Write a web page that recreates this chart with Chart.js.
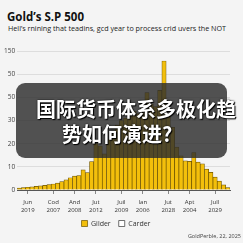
<!DOCTYPE html>
<html>
<head>
<meta charset="utf-8">
<script src="https://cdn.jsdelivr.net/npm/chart.js@4/dist/chart.umd.min.js"></script>
<style>
html,body{margin:0;padding:0;background:#f4f4f4;width:243px;height:243px;overflow:hidden;font-family:"Open Sans",sans-serif;}
#wrap{position:relative;width:243px;height:243px;}
#title{position:absolute;left:7px;top:9px;font:bold 11.5px "Open Sans",sans-serif;color:#111;}
#sub{position:absolute;left:8px;top:23px;font:7.2px "Open Sans",sans-serif;color:#222;white-space:nowrap;}
#cv{position:absolute;left:0;top:40px;}
#foot{position:absolute;right:2px;top:232px;font:5.5px "Open Sans",sans-serif;color:#444;}
#ov{position:absolute;left:16px;top:83px;width:211px;height:75px;border-radius:9px;background:rgba(45,45,45,0.82);}
.ol{position:absolute;font:bold 20px "Noto Sans CJK SC",sans-serif;color:#fff;white-space:nowrap;line-height:22px;text-shadow:0 0 2px #000,1px 1px 1px #000;}
</style>
</head>
<body>
<div id="wrap">
<div id="title">Gold’s S.P 500</div>
<div id="sub">Hell’s rnining that teadins, gcd year to process crid uvers the NOT</div>
<canvas id="cv" width="243" height="203"></canvas>
<div id="foot">GoldPerble, 22, 2025</div>
<div id="ov"></div>
<div class="ol" style="left:36px;top:98px;">国际货币体系多极化趋</div>
<div class="ol" style="left:62px;top:123px;">势如何演进?</div>
</div>
<script>
const categories = ['', '', 'Jun 2019', '', '', '', '', '', 'Cod 2007', '', '', '', '', 'And 2008', '', '', '', '', 'Jut 2012', '', '', '', '', '', 'Juil 2009', '', '', '', '', 'Ian 2006', '', '', '', '', '', 'Jut 2028', '', '', '', '', 'Apt 2004', '', '', '', '', '', 'Jull 2029', '', '', ''];
const gilderValues = [0.8, 1.0, 1.2, 1.4, 1.6, 1.8, 2.0, 2.3, 2.6, 3.0, 3.6, 4.4, 5.3, 6.0, 6.2, 8.7, 7.5, 12.3, 20, 19, 15.6, 22, 25, 28, 30, 31, 32, 34, 33, 38, 42, 37, 36, 43, 55.7, 33, 27, 18.5, 14.8, 12.6, 12.4, 16.2, 12, 11.3, 9, 7.6, 5.6, 3.8, 2.2, 1.0];
const carderValues = [];
const yTickLabels = ['0', '10', '20', '30', '50', '50', '150'];
const seriesNames = ['Gilder', 'Carder'];

new Chart(document.getElementById('cv'), {
  type: 'bar',
  data: {
    labels: categories,
    datasets: [
      {label: seriesNames[0], data: gilderValues, backgroundColor: '#f3bf0b', borderColor: '#6b5200', borderWidth: 0.7, categoryPercentage: 1, barPercentage: 1, grouped: false},
      {label: seriesNames[1], data: carderValues, backgroundColor: '#ffffff', borderColor: '#333333', borderWidth: 0.7, categoryPercentage: 1, barPercentage: 1, grouped: false}
    ]
  },
  options: {
    responsive: false,
    animation: false,
    devicePixelRatio: 1,
    layout: {padding: {top: 11, right: 13, left: 2, bottom: 6}},
    plugins: {
      legend: {
        position: 'bottom',
        labels: {boxWidth: 6, boxHeight: 6, font: {size: 7, family: 'Open Sans'}, color: '#333', padding: 8}
      },
      tooltip: {enabled: false}
    },
    scales: {
      x: {
        grid: {
          offset: false,
          drawOnChartArea: false,
          tickLength: 4,
          color: (c) => (c.tick && c.tick.label && c.tick.label !== '' ? '#888' : 'rgba(0,0,0,0)')
        },
        border: {color: '#555', width: 1},
        ticks: {
          autoSkip: false, maxRotation: 0, padding: 4,
          font: {size: 6, family: 'Open Sans', lineHeight: 1.4}, color: '#333',
          callback: function(v, i) { const s = categories[i]; return s ? s.split(' ') : ''; }
        },
        afterFit: (s) => { s.height = 22; }
      },
      y: {
        type: 'linear',
        position: 'left',
        min: 0, max: 60,
        ticks: {display: true, stepSize: 10, padding: 2, font: {size: 6.5, family: 'Open Sans'}, color: '#444',
          callback: function(v) { return yTickLabels[Math.round(v / 10)]; }},
        grid: {color: '#dddddd', drawTicks: false},
        border: {display: false}
      }
    }
  }
});
</script>
</body>
</html>
